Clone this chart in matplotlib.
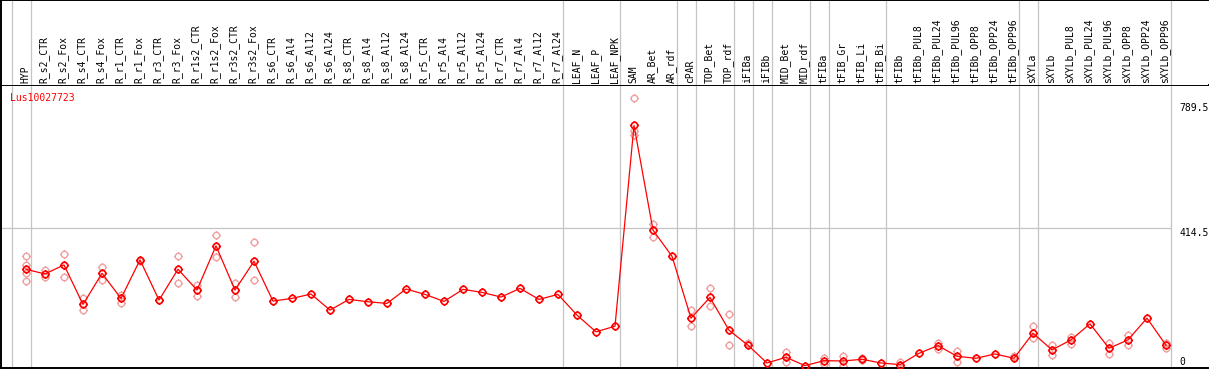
import numpy as np
import matplotlib
matplotlib.use("Agg")
import matplotlib.pyplot as plt
from matplotlib.path import Path
from matplotlib.transforms import blended_transform_factory

# ------------------------------------------------------------
# data
# ------------------------------------------------------------

samples = [
    "HYP", "R_s2_CTR", "R_s2_Fox", "R_s4_CTR", "R_s4_Fox",
    "R_r1_CTR", "R_r1_Fox", "R_r3_CTR", "R_r3_Fox",
    "R_r1s2_CTR", "R_r1s2_Fox", "R_r3s2_CTR", "R_r3s2_Fox",
    "R_s6_CTR", "R_s6_Al4", "R_s6_Al12", "R_s6_Al24",
    "R_s8_CTR", "R_s8_Al4", "R_s8_Al12", "R_s8_Al24",
    "R_r5_CTR", "R_r5_Al4", "R_r5_Al12", "R_r5_Al24",
    "R_r7_CTR", "R_r7_Al4", "R_r7_Al12", "R_r7_Al24",
    "LEAF_N", "LEAF_P", "LEAF_NPK", "SAM", "AR_Bet", "AR_rdf",
    "cPAR", "TOP_Bet", "TOP_rdf", "iFIBa", "iFIBb", "MID_Bet",
    "MID_rdf", "tFIBa", "tFIB_Gr", "tFIB_Li", "tFIB_Bi", "tFIBb",
    "tFIBb_PUL8", "tFIBb_PUL24", "tFIBb_PUL96",
    "tFIBb_OPP8", "tFIBb_OPP24", "tFIBb_OPP96",
    "sXYLa", "sXYLb", "sXYLb_PUL8", "sXYLb_PUL24", "sXYLb_PUL96",
    "sXYLb_OPP8", "sXYLb_OPP24", "sXYLb_OPP96",
]

mean_expr = [
    292, 278, 305, 187, 280, 205, 320, 200, 292, 230, 362, 230, 316,
    197, 205, 218, 170, 202, 195, 190, 233, 217, 196, 232, 223,
    209, 235, 202, 217, 155, 105, 122, 722, 409, 331, 146, 208,
    110, 65, 12, 29, 4, 19, 18, 23, 12, 7, 41, 64, 32, 26, 39, 26,
    101, 51, 81, 129, 56, 81, 146, 65,
]

replicates = [
    [332, 305, 280, 257], [290, 268], [337, 268], [207, 170],
    [300, 260], [215, 192], [318], [200], [332, 250], [245, 211],
    [394, 330], [252, 210], [373, 259], [], [], [], [], [], [], [],
    [], [], [], [], [], [], [], [], [], [], [], [],
    [803, 705, 693], [427, 389], [], [169, 122], [235, 183],
    [157, 66], [73], [], [46, 15], [], [26, 9], [33, 3], [20, 26],
    [], [15], [], [73, 53], [49, 16], [], [], [33],
    [123, 86], [66, 36], [89, 69], [], [73, 39], [96, 66], [], [73, 58],
]

group_ends = [-1, 0, 28, 31, 34, 35, 37, 38, 39, 41, 42, 45, 52, 53, 60]

gene_name = "Lus10027723"
y_marks = [789.5, 414.5, 0]


# ------------------------------------------------------------
# marker: circle with four small ticks
# ------------------------------------------------------------

def tick_circle():
    circ = Path.unit_circle()
    verts = [
        (0, 1.0), (0, 1.35), (0, -1.0), (0, -1.35),
        (1.0, 0), (1.35, 0), (-1.0, 0), (-1.35, 0),
    ]
    codes = [Path.MOVETO, Path.LINETO] * 4
    ticks = Path(verts, codes)
    return Path.make_compound_path(circ, ticks)


MARK = tick_circle()

W, H = 1209, 370
fig = plt.figure(figsize=(W / 100, H / 100), dpi=100)

# axes in pixel layout
left_px, right_px = 1, 1208
head_top, head_bot, plot_bot = 0, 85, 368

ax = fig.add_axes([
    left_px / W, (H - plot_bot) / H,
    (right_px - left_px) / W, (plot_bot - head_bot) / H
])
axh = fig.add_axes([
    left_px / W, (H - head_bot) / H,
    (right_px - left_px) / W, (head_bot - head_top) / H
])

step = 19.0
xmin = -(26 - left_px) / step
xmax = xmin + (right_px - left_px) / step
px_per_unit = (367 - 228.3) / 414.5
ymin = -(plot_bot - 367) / px_per_unit
ymax = ymin + (plot_bot - head_bot) / px_per_unit

x = np.arange(len(samples))

for a in (ax, axh):
    a.set_xlim(xmin, xmax)
    a.set_xticks([])
    a.set_yticks([])
    a.spines["right"].set_visible(False)
    for s in ("left", "top", "bottom"):
        a.spines[s].set_linewidth(1.4)
        a.spines[s].set_color("black")
    for g in group_ends:
        a.axvline(g + 4.5 / step, color="#c4c4c4", lw=0.9, zorder=1)

axh.spines["bottom"].set_visible(False)
axh.set_ylim(0, 1)

ax.set_ylim(ymin, ymax)
ax.hlines(414.5, xmin, group_ends[-1] + 4.5 / step,
          color="#c4c4c4", lw=0.9, zorder=1)

# replicate points
rx = [i for i, r in enumerate(replicates) for _ in r]
ry = [v for r in replicates for v in r]
ax.plot(rx, ry, linestyle="none", marker=MARK, markersize=6.2,
        markerfacecolor="none", markeredgecolor="#f0a0a0",
        markeredgewidth=1.0, zorder=2)

# mean line
ax.plot(x, mean_expr, color="red", lw=0.9, marker=MARK,
        markersize=6.2, markerfacecolor="none",
        markeredgecolor="red", markeredgewidth=1.2, zorder=3)

# header labels
for i, name in enumerate(samples):
    axh.text(i - 0.05, 2.0 / 85, name, rotation=90, ha="center",
             va="bottom", fontsize=7, family="DejaVu Sans Mono",
             color="black")

# y value labels at right
tr = blended_transform_factory(ax.transAxes, ax.transData)
lx = (1179 - left_px) / (right_px - left_px)
for v in y_marks:
    ax.text(lx, v, ("%g" % v), transform=tr, ha="left",
            va="top" if v > 0 else "bottom", fontsize=7,
            family="DejaVu Sans Mono", color="black")

ax.text((10 - left_px) / (right_px - left_px), (368 - 98) / 283,
        gene_name, transform=ax.transAxes, ha="left", va="center",
        fontsize=7, family="DejaVu Sans Mono", color="red")

fig.savefig("out.png", dpi=100)
